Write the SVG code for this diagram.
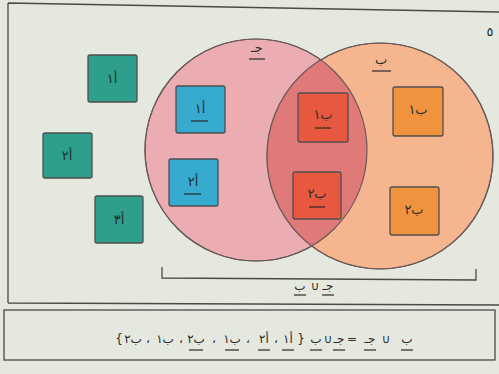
<svg xmlns="http://www.w3.org/2000/svg" width="499" height="374" viewBox="0 0 499 374">
<style>
.bg{fill:#e5e8de}
.frame{fill:none;stroke:#4a4a4a;stroke-width:1.3}
.circ{stroke:#6a5a5a;stroke-width:1.2}
.box{stroke:#4f4f4f;stroke-width:1.3}
.g{fill:#2e9f8b}
.b{fill:#36aacf}
.r{fill:#e8583f}
.o{fill:#f1923f}
.t{font-family:"DejaVu Sans",sans-serif;font-size:13px;text-anchor:middle;direction:rtl}
.dk{fill:#1e2e2a}
.ul{stroke:#2a2a2a;stroke-width:1.2}
.eq{font-family:"DejaVu Sans",sans-serif;font-size:12px;text-anchor:middle;direction:rtl;fill:#2a2a2a}
</style>
<defs>
<clipPath id="clipL"><circle cx="256" cy="150" r="111"/></clipPath>
</defs>
<rect class="bg" x="0" y="0" width="499" height="374"/>
<g id="frame">
<path class="frame" d="M8,3 L499,12 M8,3 L8,303 M8,303 L499,305"/>
<rect class="frame" x="4" y="310" width="491" height="50" fill="#e8eae2"/>
<text x="490" y="36" class="t dk" style="direction:ltr">٥</text>
</g>
<g id="set-c">
<circle class="circ" cx="256" cy="150" r="111" fill="#ecadb2"/>
<text x="257" y="52" class="t dk">جـ</text>
</g>
<g id="set-b">
<circle class="circ" cx="380" cy="156" r="113" fill="#f4b58f"/>
<circle cx="380" cy="156" r="113" fill="#e07a78" clip-path="url(#clipL)"/>
<circle class="circ" cx="256" cy="150" r="111" fill="none"/>
<circle class="circ" cx="380" cy="156" r="113" fill="none"/>
<text x="381" y="64" class="t dk">ب</text>
</g>
<g id="labels-ul">
<line class="ul" x1="249" y1="59" x2="265" y2="59"/>
<line class="ul" x1="372" y1="71" x2="391" y2="71"/>
</g>
<g id="a1"><rect class="box g" x="88" y="55" width="49" height="47" rx="2"/><text x="112" y="83" class="t dk">أ١</text></g>
<g id="a2"><rect class="box g" x="43" y="133" width="49" height="45" rx="2"/><text x="67" y="160" class="t dk">أ٢</text></g>
<g id="a3"><rect class="box g" x="95" y="196" width="48" height="47" rx="2"/><text x="119" y="224" class="t dk">أ٣</text></g>
<g id="ua1"><rect class="box b" x="176" y="86" width="49" height="47" rx="2"/><text x="200" y="113" class="t dk">أ١</text><line class="ul" x1="191" y1="121" x2="208" y2="121"/></g>
<g id="ua2"><rect class="box b" x="169" y="159" width="49" height="47" rx="2"/><text x="193" y="186" class="t dk">أ٢</text><line class="ul" x1="184" y1="194" x2="201" y2="194"/></g>
<g id="ub1"><rect class="box r" x="298" y="93" width="50" height="49" rx="2"/><text x="323" y="119" class="t dk">ب١</text><line class="ul" x1="315" y1="128" x2="331" y2="128"/></g>
<g id="ub2"><rect class="box r" x="293" y="172" width="48" height="47" rx="2"/><text x="317" y="198" class="t dk">ب٢</text><line class="ul" x1="309" y1="207" x2="325" y2="207"/></g>
<g id="b1"><rect class="box o" x="393" y="87" width="50" height="49" rx="2"/><text x="418" y="114" class="t dk">ب١</text></g>
<g id="b2"><rect class="box o" x="390" y="187" width="49" height="48" rx="2"/><text x="414" y="214" class="t dk">ب٢</text></g>
<g id="connectors">
<path class="frame" d="M162,267 L162,278 L476,280 L476,269"/>
</g>
<g id="union-label">
<text class="eq" y="290"><tspan x="300">ب</tspan><tspan x="315">∪</tspan><tspan x="328">جـ</tspan></text>
<line class="ul" x1="294" y1="295" x2="306" y2="295"/>
<line class="ul" x1="322" y1="295" x2="334" y2="295"/>
</g>
<g id="equation">
<text class="eq" y="343"><tspan x="119">}</tspan><tspan x="133">ب٢</tspan><tspan x="148">،</tspan><tspan x="165">ب١</tspan><tspan x="181">،</tspan><tspan x="196">ب٢</tspan><tspan x="214">،</tspan><tspan x="232">ب١</tspan><tspan x="248">،</tspan><tspan x="264">أ٢</tspan><tspan x="276">،</tspan><tspan x="288">أ١</tspan><tspan x="301">{</tspan><tspan x="316">ب</tspan><tspan x="328">∪</tspan><tspan x="339">جـ</tspan><tspan x="352">=</tspan><tspan x="370">جـ</tspan><tspan x="386">∪</tspan><tspan x="407">ب</tspan></text>
<line class="ul" x1="189" y1="350" x2="203" y2="350"/>
<line class="ul" x1="225" y1="350" x2="239" y2="350"/>
<line class="ul" x1="258" y1="350" x2="270" y2="350"/>
<line class="ul" x1="282" y1="350" x2="294" y2="350"/>
<line class="ul" x1="310" y1="350" x2="322" y2="350"/>
<line class="ul" x1="333" y1="350" x2="345" y2="350"/>
<line class="ul" x1="364" y1="350" x2="376" y2="350"/>
<line class="ul" x1="401" y1="350" x2="413" y2="350"/>
</g>
</svg>
